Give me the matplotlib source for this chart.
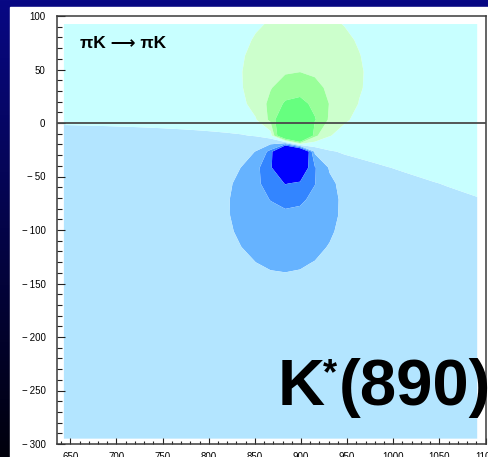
import numpy as np
import matplotlib
matplotlib.use("Agg")
import matplotlib.pyplot as plt
from matplotlib.ticker import FuncFormatter

W, H = 488, 457
FONT = ["Liberation Sans", "DejaVu Sans"]

# Complex-plane pole of the pi K amplitude (MeV): Re sqrt(s), Im sqrt(s)
pole_mass = 891.0
pole_im = -18.0

# Line where the amplitude changes sign: flat at low mass, falling above the pole
zero_slope = 0.33
zero_bend = 129.0

# Radii (MeV) of the iso-contours that touch the pole, innermost last
upper_radii = [63, 33, 21]
lower_radii = [61, 31, 20]

# Band colours from most negative to most positive
band_colors = ["#0000ff", "#3385ff", "#66b3ff", "#b3e5ff",
               "#c8ffff", "#ccffcc", "#99ff99", "#66ff7f"]

# Histogram bin centres
x_centres = np.arange(643, 1093, 16)
y_centres = np.linspace(-295, 92.5, 27)

x_ticks = list(range(650, 1101, 50))
y_ticks = list(range(-300, 101, 50))

# ---- amplitude field -------------------------------------------------------
X, Y = np.meshgrid(x_centres, y_centres)
u = X - pole_mass
w = Y - pole_im
hinge = 0.5 * (u + np.sqrt(u ** 2 + zero_bend ** 2))
y_zero = pole_im - zero_slope * (hinge - 0.5 * zero_bend)
field = (Y - y_zero) / (u ** 2 + w ** 2)

tilt = np.sqrt(1 + (zero_slope / 2) ** 2)
neg_levels = sorted(-tilt / (2 * r) for r in lower_radii)
pos_levels = sorted(tilt / (2 * r) for r in upper_radii)
big = np.abs(field).max() * 2
levels = [-big] + neg_levels + [0.0] + pos_levels + [big]

# ---- figure ----------------------------------------------------------------
fig = plt.figure(figsize=(W / 100, H / 100), dpi=100)

bg = fig.add_axes([0, 0, 1, 1], zorder=0)
t = np.linspace(0, 1, 256)[:, None, None]
top = np.array([8, 8, 132]) / 255
bottom = np.array([0, 0, 12]) / 255
grad = top * (1 - t) + bottom * t
bg.imshow(np.repeat(grad, 4, axis=1), aspect="auto", extent=[0, 1, 0, 1])
bg.add_patch(plt.Rectangle((10 / W, 0), 1, 1 - 7 / H, color="white"))
bg.set_xlim(0, 1)
bg.set_ylim(0, 1)
bg.axis("off")

left_px, right_px, top_px, bot_px = 56.5, 485.5, 16, 444
ax = fig.add_axes([left_px / W, (H - bot_px) / H,
                   (right_px - left_px) / W, (bot_px - top_px) / H], zorder=1)
ax.set_facecolor("white")

ax.contourf(x_centres, y_centres, field, levels=levels, colors=band_colors,
            antialiased=True)
ax.axhline(0, color="#4a4a4a", lw=1.3, zorder=3)

ax.set_xlim(635, 1100)
ax.set_ylim(-300, 100)
ax.set_xticks(x_ticks)
ax.set_yticks(y_ticks)
ax.set_xticks(np.arange(640, 1100, 10), minor=True)
ax.set_yticks(np.arange(-300, 101, 10), minor=True)
fmt = FuncFormatter(lambda v, _: f"{int(v)}".replace("-", "\u2212\u2009"))
ax.xaxis.set_major_formatter(fmt)
ax.yaxis.set_major_formatter(fmt)
ax.tick_params(which="both", direction="in", top=False, right=False,
               color="#222222", width=0.8)
ax.tick_params(axis="y", which="major", length=5.8, pad=8.0, labelsize=7)
ax.tick_params(axis="y", which="minor", length=3.6)
ax.tick_params(axis="x", which="major", length=4.3, pad=6.0, labelsize=7)
ax.tick_params(axis="x", which="minor", length=2.2)
for lab in ax.get_xticklabels() + ax.get_yticklabels():
    lab.set_family(FONT)
for sp in ax.spines.values():
    sp.set_color("#3a3a3a")
    sp.set_linewidth(1.1)

ax.text(660.5, 74.5, "\u03c0K \u27f6 \u03c0K", fontsize=12.5, fontweight="bold",
        family=FONT, va="center", ha="left", color="black")


def px(x, y):
    return x / W, (H - y) / H


fig.text(*px(278, 405), "K", fontsize=47, fontweight="bold", family=FONT,
         va="baseline", ha="left", zorder=5)
fig.text(*px(323, 384), "*", fontsize=26, fontweight="bold", family=FONT,
         va="baseline", ha="left", zorder=5)
fig.text(*px(339, 405), "(890)", fontsize=47, fontweight="bold", family=FONT,
         va="baseline", ha="left", zorder=5)

fig.savefig("out.png", dpi=100)
